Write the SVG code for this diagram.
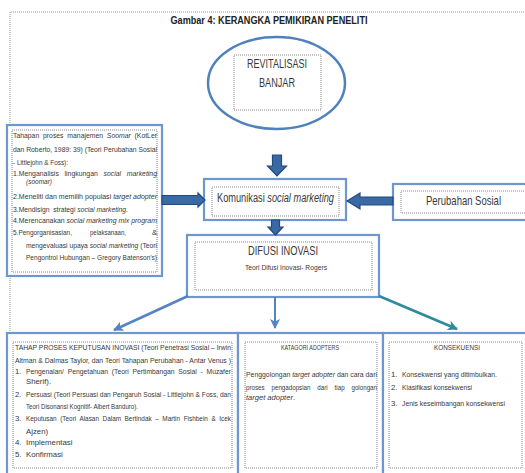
<svg xmlns="http://www.w3.org/2000/svg" width="525" height="473" viewBox="0 0 525 473">
<style>
text{font-family:"Liberation Sans",Arial,sans-serif;fill:#383838}
.t8{font-size:7.8px}
.i{font-style:italic}
.box{fill:#fff;stroke:#6f96cd;stroke-width:2.2}
.dot{fill:none;stroke:#7a7a7a;stroke-width:0.9;stroke-dasharray:1 1}
.blk{fill:#3a6aa5;stroke:#234a7c;stroke-width:1.2}
</style>
<defs>
<marker id="mb" markerUnits="userSpaceOnUse" markerWidth="12" markerHeight="12" refX="9" refY="5" orient="auto"><path d="M0,0 L10,5 L0,10 L2.5,5 Z" fill="#5584c2"/></marker>
<marker id="mt" markerUnits="userSpaceOnUse" markerWidth="12" markerHeight="12" refX="9" refY="5" orient="auto"><path d="M0,0 L10,5 L0,10 L2.5,5 Z" fill="#2f8a9b"/></marker>
</defs>
<rect width="525" height="473" fill="#fff"/>
<path d="M10,333 V12 H525" fill="none" stroke="#8a8a8a" stroke-width="0.9" stroke-dasharray="1 1"/>
<text x="269" y="24" font-size="11" font-weight="bold" text-anchor="middle" textLength="197" lengthAdjust="spacingAndGlyphs" style="fill:#222">Gambar 4: KERANGKA PEMIKIRAN PENELITI</text>

<g id="revitalisasi">
<ellipse cx="276.5" cy="83" rx="68.5" ry="46" fill="#fff" stroke="#4f81bd" stroke-width="2.5"/>
<rect x="234" y="55" width="87" height="55" class="dot"/>
<text x="277" y="68" font-size="12.5" text-anchor="middle" textLength="60" lengthAdjust="spacingAndGlyphs">REVITALISASI</text>
<text x="277" y="87" font-size="12.5" text-anchor="middle" textLength="36" lengthAdjust="spacingAndGlyphs">BANJAR</text>
</g>

<g id="tahapan">
<rect x="7" y="125" width="155" height="151" class="box"/>
<rect x="12" y="130" width="145" height="142" class="dot"/>
<text class="t8" x="13" y="138" textLength="144" lengthAdjust="spacingAndGlyphs" xml:space="preserve">Tahapan  proses  manajemen  <tspan class="i">Soomar</tspan>  (KotLer</text>
<text class="t8" x="13" y="152" textLength="144" lengthAdjust="spacingAndGlyphs">dan Roberto, 1989: 39) (Teori Perubahan Sosial</text>
<text class="t8" x="13" y="165" textLength="55" lengthAdjust="spacingAndGlyphs">- Littlejohn &amp; Foss):</text>
<text class="t8" x="13" y="176" textLength="144" lengthAdjust="spacingAndGlyphs" xml:space="preserve">1.Menganalisis   lingkungan   <tspan class="i">social   marketing</tspan></text>
<text class="t8 i" x="26" y="184" textLength="26" lengthAdjust="spacingAndGlyphs">(soomar)</text>
<text class="t8" x="13" y="199" textLength="144" lengthAdjust="spacingAndGlyphs">2.Meneliti dan memilih populasi <tspan class="i">target adopter</tspan></text>
<text class="t8" x="13" y="212" textLength="115" lengthAdjust="spacingAndGlyphs" xml:space="preserve">3.Mendisign  strategi <tspan class="i">social marketing</tspan>.</text>
<text class="t8" x="13" y="223" textLength="144" lengthAdjust="spacingAndGlyphs">4.Merencanakan <tspan class="i">social marketing mix program</tspan></text>
<text class="t8" x="13" y="235" textLength="59" lengthAdjust="spacingAndGlyphs">5.Pengorganisasian,</text>
<text class="t8" x="90" y="235" textLength="36" lengthAdjust="spacingAndGlyphs">pelaksanaan,</text>
<text class="t8" x="152" y="235">&amp;</text>
<text class="t8" x="26" y="248" textLength="131" lengthAdjust="spacingAndGlyphs">mengevaluasi upaya <tspan class="i">social marketing</tspan> (Teori</text>
<text class="t8" x="26" y="260" textLength="131" lengthAdjust="spacingAndGlyphs">Pengontrol Hubungan – Gregory Batenson's)</text>
</g>

<g id="komunikasi">
<rect x="204" y="179" width="142" height="41" class="box"/>
<rect x="212" y="187" width="127" height="29" class="dot"/>
<text x="217" y="202" font-size="12.5" textLength="117" lengthAdjust="spacingAndGlyphs">Komunikasi <tspan class="i">social marketing</tspan></text>
</g>

<g id="perubahan">
<rect x="393" y="184" width="140" height="36" class="box"/>
<rect x="401" y="191" width="130" height="22" class="dot"/>
<text x="426" y="205" font-size="13.5" textLength="75" lengthAdjust="spacingAndGlyphs">Perubahan Sosial</text>
</g>

<g id="difusi">
<rect x="187" y="235" width="192" height="62" class="box"/>
<rect x="195" y="242" width="177" height="48" class="dot"/>
<text x="283" y="255" font-size="13" text-anchor="middle" textLength="70" lengthAdjust="spacingAndGlyphs">DIFUSI INOVASI</text>
<text class="t8" x="286" y="270" text-anchor="middle" textLength="82" lengthAdjust="spacingAndGlyphs">Teori Difusi Inovasi- Rogers</text>
</g>

<g id="tahap-proses">
<rect x="7" y="333" width="231" height="142" class="box"/>
<rect x="13" y="342" width="219" height="126" class="dot"/>
<text class="t8" x="15" y="350" textLength="216" lengthAdjust="spacingAndGlyphs">TAHAP PROSES KEPUTUSAN INOVASI (Teori Penetrasi Sosial – Irwin</text>
<text class="t8" x="15" y="363" textLength="216" lengthAdjust="spacingAndGlyphs">Altman &amp; Dalmas Taylor, dan Teori Tahapan Perubahan - Antar Venus )</text>
<text class="t8" x="15" y="374">1.</text>
<text class="t8" x="26" y="374" textLength="205" lengthAdjust="spacingAndGlyphs" xml:space="preserve">Pengenalan/  Pengetahuan  (Teori  Pertimbangan  Sosial  -  Muzafer</text>
<text class="t8" x="26" y="384">Sherif).</text>
<text class="t8" x="15" y="397">2.</text>
<text class="t8" x="26" y="397" textLength="205" lengthAdjust="spacingAndGlyphs">Persuasi (Teori Persuasi dan Pengaruh Sosial - Littlejohn &amp; Foss, dan</text>
<text class="t8" x="26" y="409" textLength="112" lengthAdjust="spacingAndGlyphs">Teori Disonansi Kognitif- Albert Banduro).</text>
<text class="t8" x="15" y="421">3.</text>
<text class="t8" x="26" y="421" textLength="205" lengthAdjust="spacingAndGlyphs" xml:space="preserve">Keputusan  (Teori  Alasan  Dalam  Bertindak  –  Martin  Fishbein  &amp;  Icek</text>
<text class="t8" x="26" y="434">Ajzen)</text>
<text class="t8" x="15" y="445">4.</text>
<text class="t8" x="26" y="445">Implementasi</text>
<text class="t8" x="15" y="457">5.</text>
<text class="t8" x="26" y="457">Konfirmasi</text>
</g>

<g id="katagori">
<rect x="238" y="333" width="145" height="142" class="box"/>
<rect x="245" y="342" width="132" height="126" class="dot"/>
<text class="t8" x="310" y="350" text-anchor="middle" textLength="58" lengthAdjust="spacingAndGlyphs">KATAGORI ADOPTERS</text>
<text class="t8" x="246" y="377" textLength="131" lengthAdjust="spacingAndGlyphs">Penggolongan <tspan class="i">target adopter</tspan> dan cara dari</text>
<text class="t8" x="246" y="390" textLength="131" lengthAdjust="spacingAndGlyphs" xml:space="preserve">proses    pengadopsian    dari    tiap    golongan</text>
<text class="t8" x="246" y="400" textLength="49" lengthAdjust="spacingAndGlyphs"><tspan class="i">target adopter</tspan>.</text>
</g>

<g id="konsekuensi">
<rect x="383" y="333" width="146" height="142" class="box"/>
<rect x="389" y="342" width="133" height="126" class="dot"/>
<text class="t8" x="457" y="350" text-anchor="middle" textLength="46" lengthAdjust="spacingAndGlyphs">KONSEKUENSI</text>
<text class="t8" x="391" y="377">1.</text>
<text class="t8" x="402" y="377" textLength="95" lengthAdjust="spacingAndGlyphs">Konsekwensi yang ditimbulkan.</text>
<text class="t8" x="391" y="390">2.</text>
<text class="t8" x="402" y="390" textLength="70" lengthAdjust="spacingAndGlyphs">Klasifikasi konsekwensi</text>
<text class="t8" x="391" y="406">3.</text>
<text class="t8" x="402" y="406" textLength="103" lengthAdjust="spacingAndGlyphs">Jenis keseimbangan konsekwensi</text>
</g>

<g id="connectors">
<path class="blk" d="M272.5,155 H281.5 V166 H286.5 L277,176 L267.5,166 H272.5 Z"/>
<path class="blk" d="M271.5,220 H279.5 V227 H283 L275.5,235 L268,227 H271.5 Z"/>
<path class="blk" d="M162,195.5 H198 V193 L205,200 L198,207 V204.5 H162 Z"/>
<path class="blk" d="M393,197 H360 V193 L347,201 L360,209 V205 H393 Z"/>
<line x1="188" y1="296" x2="114" y2="330" stroke="#5584c2" stroke-width="2.5" marker-end="url(#mb)"/>
<line x1="275" y1="297" x2="275" y2="328" stroke="#5584c2" stroke-width="2" marker-end="url(#mb)"/>
<line x1="379" y1="296" x2="457" y2="329" stroke="#2f8a9b" stroke-width="2.5" marker-end="url(#mt)"/>
</g>
</svg>
